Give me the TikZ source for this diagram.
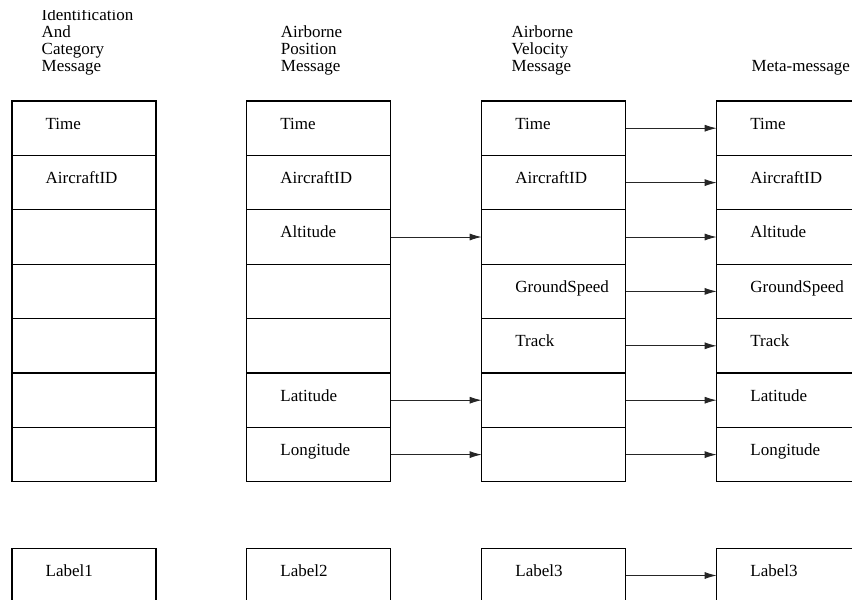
\documentclass[tikz,border=0pt]{standalone}
\usepackage{fontspec}
\setmainfont{Liberation Serif}
\usetikzlibrary{arrows.meta}

\begin{document}
\begin{tikzpicture}[x=1pt,y=-1pt,
  cell/.style={draw,line width=1.1pt,anchor=north west,minimum width=144pt,
    minimum height=54.4pt,inner sep=0pt,outer sep=0pt},
  field/.style={cell,label={[txt]north west:#1}},
  txt/.style={anchor=base west,xshift=33.5pt,yshift=-28pt,inner sep=0pt,
    font=\fontsize{17}{17.2}\selectfont},
  head/.style={anchor=base west,align=left,inner sep=0pt,
    font=\fontsize{17}{17.2}\selectfont},
  link/.style={line width=0.9pt,color=black!85,-{Latex[length=12pt,width=7pt]}}]

\useasboundingbox (0,0) rectangle (852,600);
\clip (0,10.5) rectangle (852,600);

% ------------------------------------------------ message titles
\node[head] (idh)   at (41.5,71.7)  {Identification\\And\\Category\\Message};
\node[head] (posh)  at (280.7,71.7) {Airborne\\Position\\Message};
\node[head] (velh)  at (511.5,71.7) {Airborne\\Velocity\\Message};
\node[head] (metah) at (751.5,71.7) {Meta-message};

% ------------------------------------------------ identification and category
\node[field=Time]       (id1) at (12,101) {};
\node[field=AircraftID] (id2) at (id1.south west) {};
\node[cell]             (id3) at (id2.south west) {};
\node[cell]             (id4) at (id3.south west) {};
\node[cell]             (id5) at (id4.south west) {};
\node[cell]             (id6) at (id5.south west) {};
\node[cell]             (id7) at (id6.south west) {};
\node[field=Label1]     (idl) at (12,548.3) {};

% ------------------------------------------------ airborne position
\node[field=Time]       (pos1) at (246.7,101) {};
\node[field=AircraftID] (pos2) at (pos1.south west) {};
\node[field=Altitude]   (pos3) at (pos2.south west) {};
\node[cell]             (pos4) at (pos3.south west) {};
\node[cell]             (pos5) at (pos4.south west) {};
\node[field=Latitude]   (pos6) at (pos5.south west) {};
\node[field=Longitude]  (pos7) at (pos6.south west) {};
\node[field=Label2]     (posl) at (246.7,548.3) {};

% ------------------------------------------------ airborne velocity
\node[field=Time]        (vel1) at (481.7,101) {};
\node[field=AircraftID]  (vel2) at (vel1.south west) {};
\node[cell]              (vel3) at (vel2.south west) {};
\node[field=GroundSpeed] (vel4) at (vel3.south west) {};
\node[field=Track]       (vel5) at (vel4.south west) {};
\node[cell]              (vel6) at (vel5.south west) {};
\node[cell]              (vel7) at (vel6.south west) {};
\node[field=Label3]      (vell) at (481.7,548.3) {};

% ------------------------------------------------ meta-message
\node[field=Time]        (meta1) at (716.7,101) {};
\node[field=AircraftID]  (meta2) at (meta1.south west) {};
\node[field=Altitude]    (meta3) at (meta2.south west) {};
\node[field=GroundSpeed] (meta4) at (meta3.south west) {};
\node[field=Track]       (meta5) at (meta4.south west) {};
\node[field=Latitude]    (meta6) at (meta5.south west) {};
\node[field=Longitude]   (meta7) at (meta6.south west) {};
\node[field=Label3]      (metal) at (716.7,548.3) {};

% ------------------------------------------------ position -> velocity
\draw[link] (pos3) -- (vel3);
\draw[link] (pos6) -- (vel6);
\draw[link] (pos7) -- (vel7);

% ------------------------------------------------ velocity -> meta-message
\draw[link] (vel1) -- (meta1);
\draw[link] (vel2) -- (meta2);
\draw[link] (vel3) -- (meta3);
\draw[link] (vel4) -- (meta4);
\draw[link] (vel5) -- (meta5);
\draw[link] (vel6) -- (meta6);
\draw[link] (vel7) -- (meta7);
\draw[link] (vell) -- (metal);

\end{tikzpicture}
\end{document}
